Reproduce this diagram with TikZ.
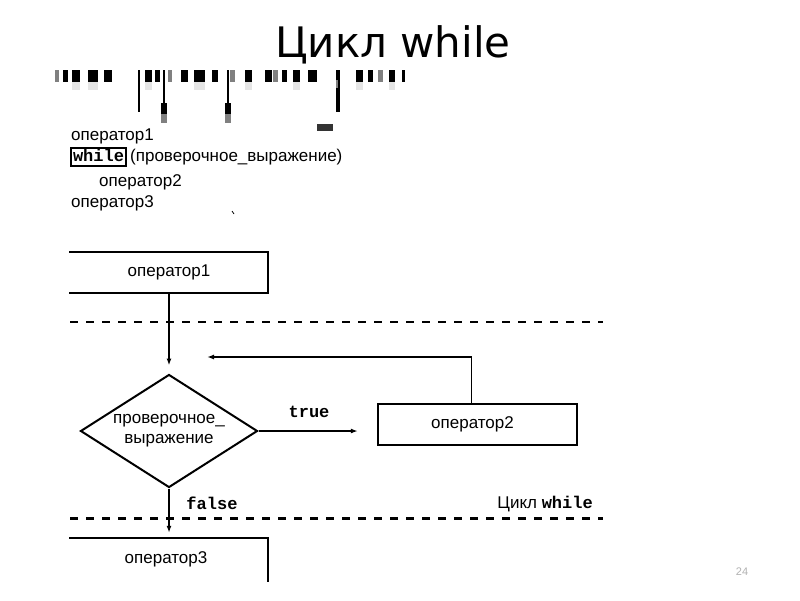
\documentclass[tikz,border=0pt]{standalone}
\usepackage{fontspec}
\setmainfont{Liberation Sans}
\setmonofont{Liberation Mono}
\newfontfamily\wTitleFont{DejaVu Sans}
\usetikzlibrary{shapes.geometric,arrows.meta}
\newcommand{\wMono}[1]{\texttt{\bfseries #1}}

\begin{document}
\begin{tikzpicture}[x=1pt,y=-1pt,
  txt/.style={font=\fontsize{17}{20}\selectfont, inner sep=0pt},
  opbox/.style={txt, minimum width=198pt, minimum height=41pt},
  flow/.style={line width=1.4pt, -{Latex[length=7pt,width=5pt]}},
  boxline/.style={line width=2.4pt, line cap=rect},
  sep/.style={line width=2.6pt, dash pattern=on 8pt off 8pt}]
\useasboundingbox[fill=white] (0,0) rectangle (800,600);
\node[font=\wTitleFont\fontsize{42}{50}\selectfont, anchor=base] (title) at (393,57) {Цикл while};
\foreach \a/\b in {63/68,72/80,88/98,104/112,145/152,155/160,181/188,194/205,212/218,245/252,265/272,282/287,293/300,308/317,356/363,368/373,389/395,402/405}
  \fill (\a,70) rectangle (\b,82);
\foreach \a/\b in {55/59,168/172,230/235,273/278,378/383}
  \fill[gray] (\a,70) rectangle (\b,82);
\foreach \a/\b in {72/80,88/98,145/152,194/205,245/252,293/300,356/363,389/395}
  \fill[gray!20] (\a,82) rectangle (\b,90);
\fill (138,70) rectangle (140,112);
\fill (163,70) rectangle (165,104);
\fill (161,103) rectangle (167,114);
\fill[gray] (161,114) rectangle (167,123);
\fill (227,70) rectangle (229,104);
\fill (225,103) rectangle (231,114);
\fill[gray] (225,114) rectangle (231,123);
\fill (336,70) rectangle (340,112);
\fill[gray] (336,80) rectangle (338,88);
\fill[black!80] (317,124) rectangle (333,131);
\node[txt, anchor=base west] (ln1) at (71,140) {оператор1};
\node[draw, line width=2pt, inner sep=2pt, text height=11pt, text depth=3pt, anchor=base west, font=\fontsize{17}{20}\selectfont] (kw) at (70,161) {\wMono{while}};
\node[txt, anchor=base west] (ln2) at ([xshift=3pt]kw.base east) {(проверочное\_выражение)};
\node[txt, anchor=base west] (ln3) at (99,186) {оператор2};
\node[txt, anchor=base west] (ln4) at (71,207) {оператор3};
\draw[line width=0.8pt] (232,211) -- (234,214);
\node[opbox] (op1) at (169,272.5) {оператор1};
\draw[boxline] (op1.north west) -- (op1.north east) -- (op1.south east) -- (op1.south west);
\draw[sep] (70,322) -- (603,322);
\node[txt, diamond, draw, line width=2pt, aspect=1.57, minimum width=177pt, minimum height=113pt, align=center] (cond) at (169,431) {проверочное\_\\выражение};
\node[opbox, draw, line width=2.4pt, minimum width=199pt] (op2) at (477.5,424.5) {\hspace*{-10pt}оператор2};
\coordinate (back) at (207,357);
\node[txt] (truelbl) at (309,412) {\wMono{true}};
\node[txt] (falselbl) at (212,503) {\wMono{false}};
\node[txt, anchor=base east] (looplbl) at (593,508) {Цикл \wMono{while}};
\draw[sep] (70,518.5) -- (603,518.5);
\node[opbox, minimum height=42pt] (op3) at (169,559) {\hspace*{-6pt}оператор3};
\coordinate (op3end) at (op3.north east |- 0,581);
\draw[boxline] (op3.north west) -- (op3.north east) -- (op3end);
\draw[flow, shorten >=8pt] (op1.south) -- (cond.north);
\draw[flow, shorten >=19pt] (cond.east) -- (op2.west |- cond.east);
\draw[flow] ([xshift=-6pt]op2.north) |- (back);
\draw[flow, shorten >=5pt] (cond.south) -- (op3.north);
\node[font=\fontsize{11}{13}\selectfont, text=gray!60] (pg) at (742,572) {24};
\end{tikzpicture}
\end{document}
